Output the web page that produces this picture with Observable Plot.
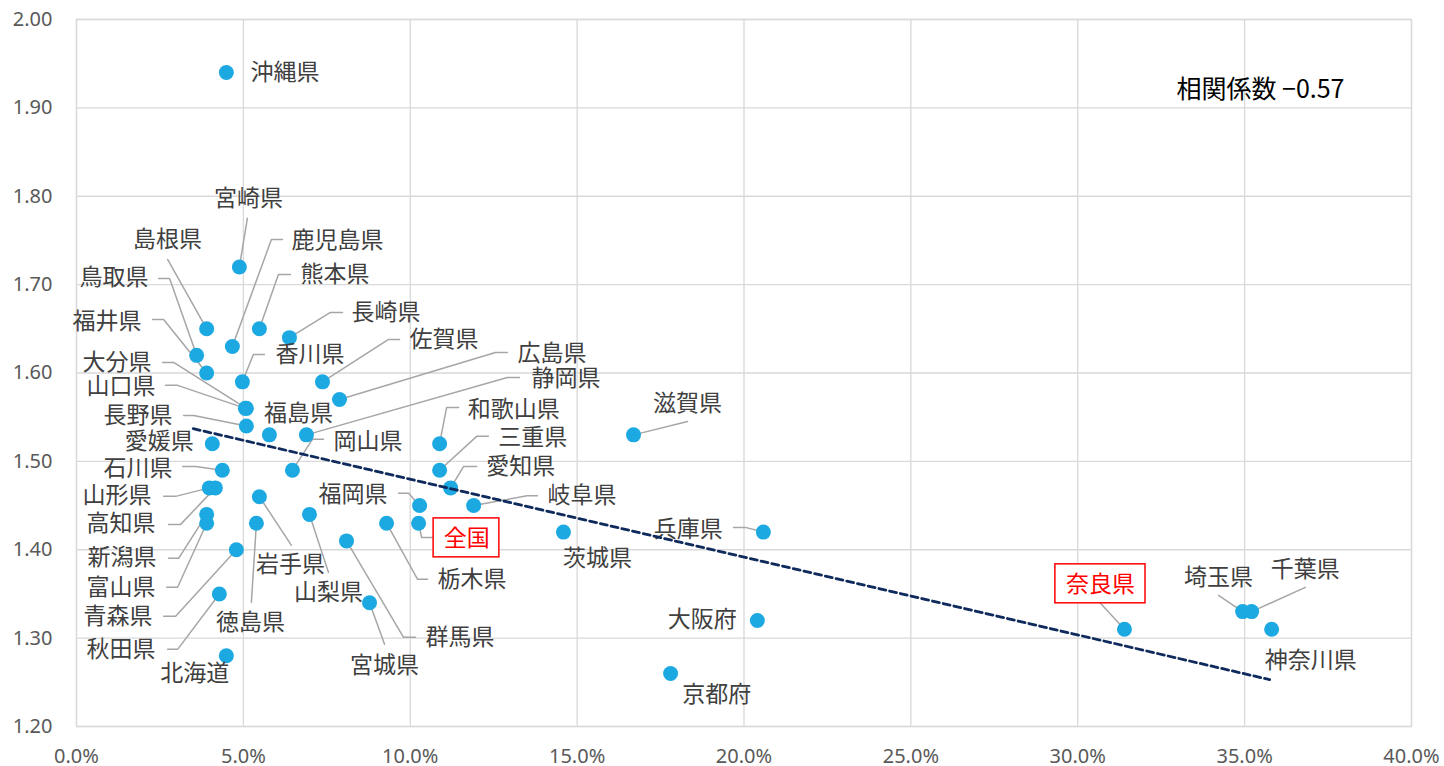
<!DOCTYPE html>
<html><head><meta charset="utf-8">
<script src="https://cdn.jsdelivr.net/npm/d3@7"></script>
<script src="https://cdn.jsdelivr.net/npm/@observablehq/plot@0.6"></script>
<style>
body{margin:0;background:#fff}
#chart svg{display:block}
</style>
</head><body><div id="chart"></div>
<script>
// data points (x = percent, y = value)
const names = ["沖縄県","宮崎県","島根県","鹿児島県","熊本県","長崎県","鳥取県","福井県","香川県","佐賀県","広島県","大分県","山口県","長野県","福島県","静岡県","岡山県","愛媛県","石川県","山形県","高知県","新潟県","富山県","青森県","秋田県","北海道","岩手県","徳島県","山梨県","宮城県","群馬県","栃木県","福岡県","全国","和歌山県","三重県","愛知県","岐阜県","茨城県","滋賀県","兵庫県","大阪府","京都府","奈良県","埼玉県","千葉県","神奈川県"];
const xs = [4.49,4.88,3.90,4.67,5.48,6.38,3.60,3.90,4.97,7.37,7.88,5.09,5.06,5.09,5.78,6.89,6.47,4.07,4.37,3.98,4.16,3.90,3.90,4.79,4.28,4.49,5.48,5.39,6.98,8.78,8.09,9.29,10.28,10.25,10.88,10.88,11.21,11.90,14.59,16.69,20.58,20.40,17.80,31.40,34.94,35.21,35.81];
const ys = [1.94,1.72,1.65,1.63,1.65,1.64,1.62,1.60,1.59,1.59,1.57,1.56,1.56,1.54,1.53,1.53,1.49,1.52,1.49,1.47,1.47,1.44,1.43,1.40,1.35,1.28,1.46,1.43,1.44,1.34,1.41,1.43,1.45,1.43,1.52,1.49,1.47,1.45,1.42,1.53,1.42,1.32,1.26,1.31,1.33,1.33,1.31];

// label placement (data units) and text anchor
const labelX = [5.21,5.15,2.73,6.44,6.71,8.24,2.16,1.95,5.96,9.98,13.21,2.25,2.37,2.88,6.65,13.63,7.70,3.51,2.88,2.25,2.37,2.40,2.37,2.28,2.37,3.54,6.41,5.21,7.55,9.23,10.46,10.82,9.32,11.69,11.72,12.64,12.28,14.11,15.61,18.31,19.36,19.78,19.18,30.68,34.22,36.82,35.60];
const labelY = [1.940,1.7975,1.751,1.750,1.7115,1.6686,1.708,1.658,1.621,1.638,1.6222,1.612,1.585,1.552,1.554,1.594,1.5226,1.5226,1.492,1.4615,1.430,1.3914,1.3575,1.3247,1.2873,1.2602,1.3835,1.3179,1.3518,1.2692,1.3009,1.3665,1.4627,1.4129,1.5588,1.5271,1.4943,1.4615,1.3903,1.5656,1.4231,1.3213,1.2364,1.3609,1.3688,1.3778,1.2749];
const labelAnchor = ["start","middle","middle","start","start","start","end","end","start","start","start","end","end","end","middle","start","start","end","end","end","end","end","end","end","end","middle","middle","middle","middle","middle","start","start","end","middle","start","start","start","start","middle","middle","end","end","middle","middle","middle","middle","start"];
const highlighted = ["全国","奈良県"];

// leader lines: label name and bend points (data units)
const leaderNames = ["宮崎県","島根県","鹿児島県","熊本県","長崎県","鳥取県","福井県","香川県","佐賀県","広島県","静岡県","大分県","山口県","長野県","岡山県","石川県","山形県","高知県","新潟県","富山県","青森県","秋田県","岩手県","徳島県","山梨県","宮城県","群馬県","栃木県","福岡県","全国","和歌山県","三重県","愛知県","岐阜県","滋賀県","兵庫県","奈良県","埼玉県","千葉県"];
const leaderPts = [
  [[5.12,1.775]],
  [[2.73,1.7285]],
  [[5.84,1.751],[6.17,1.751]],
  [[6.05,1.7115],[6.41,1.7115]],
  [[7.61,1.6686],[7.97,1.6686]],
  [[2.79,1.707],[2.46,1.707]],
  [[2.61,1.6606],[2.28,1.6606]],
  [[5.30,1.621],[5.63,1.621]],
  [[9.35,1.638],[9.68,1.638]],
  [[12.55,1.6233],[12.91,1.6233]],
  [[12.91,1.595],[13.27,1.595]],
  [[2.91,1.612],[2.58,1.612]],
  [[3.03,1.586],[2.67,1.586]],
  [[3.51,1.552],[3.21,1.552]],
  [[7.07,1.5249],[7.40,1.5249]],
  [[3.57,1.4943],[3.18,1.4943]],
  [[2.97,1.4604],[2.61,1.4604]],
  [[3.12,1.4287],[2.76,1.4287]],
  [[3.06,1.3903],[2.76,1.3903]],
  [[3.03,1.3575],[2.70,1.3575]],
  [[2.97,1.3247],[2.61,1.3247]],
  [[3.03,1.2873],[2.73,1.2873]],
  [[6.44,1.405]],
  [[5.24,1.3405]],
  [[7.55,1.3744]],
  [[9.23,1.293]],
  [[9.80,1.3009],[10.16,1.3009]],
  [[10.22,1.3665],[10.52,1.3665]],
  [[9.95,1.4638],[9.65,1.4638]],
  [[10.34,1.414],[10.70,1.414]],
  [[11.09,1.5611],[11.45,1.5611]],
  [[11.99,1.5283],[12.34,1.5283]],
  [[11.60,1.4943],[11.99,1.4943]],
  [[13.50,1.461],[13.81,1.461]],
  [[18.31,1.5452]],
  [[20.04,1.4253],[19.69,1.4253]],
  [[30.68,1.3394]],
  [[34.22,1.3484]],
  [[36.82,1.3575]]
];

// boxes around highlighted labels (data units)
const boxNames = ["全国","奈良県"];
const boxX1 = [10.70, 29.33];
const boxX2 = [12.67, 32.03];
const boxY1 = [1.3914, 1.3394];
const boxY2 = [1.4355, 1.3835];

// trend line end points
const trendX = [3.5, 35.75];
const trendY = [1.537, 1.253];

const xTicks = [0,5,10,15,20,25,30,35,40];
const yTicks = [1.2,1.3,1.4,1.5,1.6,1.7,1.8,1.9,2.0];
const corrText = "相関係数 −0.57";

const points = names.map((n,i)=>({name:n, x:xs[i], y:ys[i]}));
const labels = names.map((n,i)=>({name:n, x:labelX[i], y:labelY[i], anchor:labelAnchor[i], hi:highlighted.includes(n)}));
const leaderRows = [];
leaderNames.forEach((n,i)=>{
  const p = points.find(d=>d.name===n);
  leaderRows.push({name:n, x:p.x, y:p.y});
  leaderPts[i].forEach(([x,y])=>leaderRows.push({name:n, x, y}));
});
const boxes = boxNames.map((n,i)=>({name:n, x1:boxX1[i], x2:boxX2[i], y1:boxY1[i], y2:boxY2[i]}));
const trend = trendX.map((x,i)=>({x, y:trendY[i]}));

const labelFont = {fontFamily:"'Noto Sans CJK JP', sans-serif", fontSize:23, fill:"#404040"};

const marks = [
  Plot.gridX(xTicks, {stroke:"#d9d9d9", strokeOpacity:1, strokeWidth:1.3}),
  Plot.gridY(yTicks, {stroke:"#d9d9d9", strokeOpacity:1, strokeWidth:1.3}),
  Plot.frame({stroke:"#d9d9d9", strokeWidth:1.3}),
  Plot.axisX({ticks:xTicks, tickSize:0, tickPadding:22, tickFormat:d=>d.toFixed(1)+"%", fontSize:20, fill:"#595959", fontFamily:"'Noto Sans', sans-serif", label:null}),
  Plot.axisY({ticks:yTicks, tickSize:0, tickPadding:24, tickFormat:d=>d.toFixed(2), fontSize:20, fill:"#595959", fontFamily:"'Noto Sans', sans-serif", label:null}),
  Plot.line(leaderRows, {x:"x", y:"y", z:"name", stroke:"#a6a6a6", strokeWidth:1.5, curve:"linear"}),
  Plot.dot(points, {x:"x", y:"y", r:7.5, fill:"#1CA9E2", stroke:"none"}),
  Plot.rect(boxes, {x1:"x1", x2:"x2", y1:"y1", y2:"y2", fill:"white", stroke:"#ff0000", strokeWidth:1.5}),
];
for (const a of ["start","middle","end"]) {
  marks.push(Plot.text(labels.filter(d=>d.anchor===a && !d.hi), {x:"x", y:"y", text:"name", textAnchor:a, ...labelFont}));
}
marks.push(Plot.text(labels.filter(d=>d.hi), {x:"x", y:"y", text:"name", textAnchor:"middle", ...labelFont, fill:"#ff0000"}));
marks.push(Plot.line(trend, {x:"x", y:"y", stroke:"#0f2a5c", strokeWidth:2.8, strokeDasharray:"7,4"}));
marks.push(Plot.text([corrText], {text:d=>d, frameAnchor:"top-right", dx:-67, dy:61, textAnchor:"end", fontFamily:"'Noto Sans CJK JP', sans-serif", fontSize:25, fill:"#000"}));

const chart = Plot.plot({
  width:1444, height:766,
  marginLeft:76, marginRight:33, marginTop:19, marginBottom:40,
  x:{domain:[0,40]},
  y:{domain:[1.2,2.0]},
  style:{background:"#fff", overflow:"visible"},
  marks
});
document.getElementById("chart").appendChild(chart);
</script>
</body></html>
